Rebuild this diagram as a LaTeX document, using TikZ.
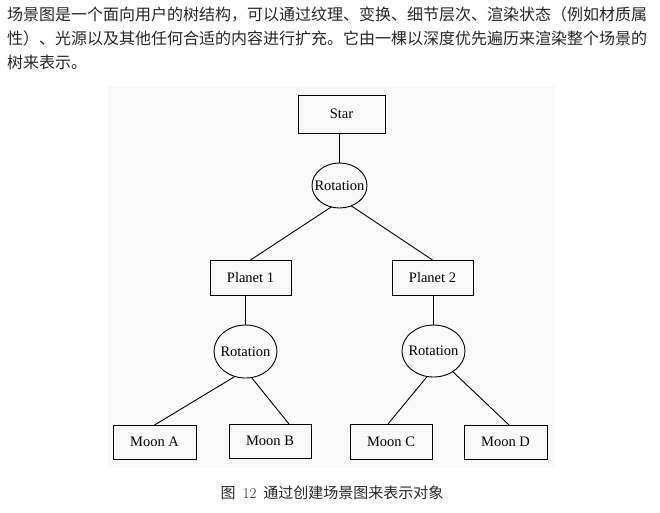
\documentclass[tikz,border=0pt]{standalone}
\usepackage{fontspec}
\newfontfamily\cjk{Noto Sans CJK SC}
\newfontfamily\lab{Liberation Serif}
\usetikzlibrary{shapes.geometric,calc}
\newcommand{\zlab}[1]{\raisebox{-0.34em}[0pt][0pt]{\makebox[0pt]{#1}}}
\begin{document}
\begin{tikzpicture}[x=1pt,y=-1pt,
  box/.style={draw,line width=1pt,rectangle,inner sep=0pt,outer sep=0pt,font=\lab\fontsize{14.5}{16}\selectfont},
  rot/.style={draw,line width=0.9pt,ellipse,inner sep=0pt,outer sep=0pt,font=\lab\fontsize{14.5}{16}\selectfont},
  link/.style={line width=0.9pt},
  para/.style={anchor=west,inner sep=0pt,font=\cjk\fontsize{16}{18}\selectfont,text=black!85}]
\useasboundingbox (0,0) rectangle (660,512);
\fill[black!2.5] (108,86) rectangle (555,468);
% paragraph
\node[para] (l1) at (7,15) {场景图是一个面向用户的树结构，可以通过纹理、变换、细节层次、渲染状态（例如材质属};
\node[para] (l2) at (7,38.5) {性）、光源以及其他任何合适的内容进行扩充。它由一棵以深度优先遍历来渲染整个场景的};
\node[para] (l3) at (7,62) {树来表示。};
% tree
\node[box,minimum width=87pt,minimum height=38pt] (star) at (341.5,114) {Star\hspace{8pt}};
\node[rot,minimum width=55pt,minimum height=45pt] (r1) at (339.5,185.5) {\zlab{Rotation}};
\node[box,minimum width=81pt,minimum height=35pt] (p1) at (250.5,277.5) {Planet 1\hspace{12pt}};
\node[box,minimum width=81pt,minimum height=35pt] (p2) at (432.5,277.5) {Planet 2\hspace{9pt}};
\node[rot,minimum width=63pt,minimum height=53pt] (r2) at (245.5,351.5) {\zlab{Rotation}};
\node[rot,minimum width=63pt,minimum height=52pt] (r3) at (433.5,351) {\zlab{Rotation}};
\node[box,minimum width=83pt,minimum height=34pt] (ma) at (154.5,442) {Moon A};
\node[box,minimum width=82pt,minimum height=34pt] (mb) at (270,441) {Moon B};
\node[box,minimum width=82pt,minimum height=35pt] (mc) at (391,441.5) {Moon C};
\node[box,minimum width=83pt,minimum height=34pt] (md) at (505.5,442) {Moon D};
\draw[link] (r1.north |- star.south) -- (r1.north);
\draw[link] (r1.249) -- (p1.north);
\draw[link] (r1.300) -- (p2.north);
\draw[link] (r2.north |- p1.south) -- (r2.north);
\draw[link] (r3.north |- p2.south) -- (r3.north);
\draw[link] (r2.247) -- (ma.north);
\draw[link] (r2.283) -- ($(mb.north)+(19,0)$);
\draw[link] (r3.256) -- ($(mc.north)+(-3,0)$);
\draw[link] (r3.313) -- ($(md.north)+(3.5,0)$);
% caption
\node[inner sep=0pt,text=black!85] (cap) at (332,493) {\cjk\fontsize{15}{17}\selectfont 图\hspace{7pt}{\fontspec{Latin Modern Roman}12}\hspace{7pt}通过创建场景图来表示对象};
\end{tikzpicture}
\end{document}
